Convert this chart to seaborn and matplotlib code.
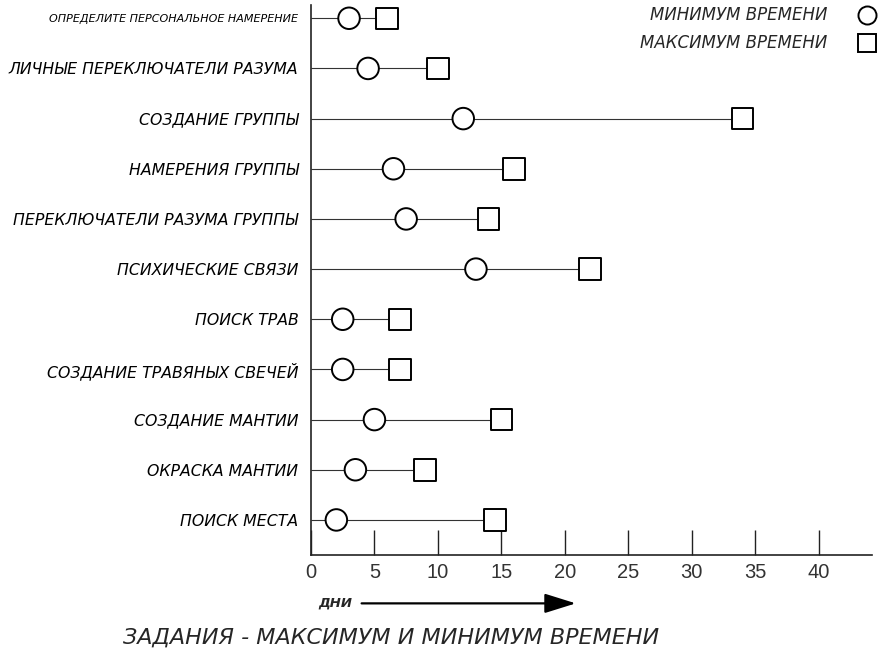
import matplotlib
matplotlib.use("Agg")
import matplotlib.pyplot as plt
from matplotlib.lines import Line2D
import seaborn as sns
import pandas as pd

# Task names and the minimum / maximum number of days each takes
tasks = [
    "ОПРЕДЕЛИТЕ ПЕРСОНАЛЬНОЕ НАМЕРЕНИЕ",
    "ЛИЧНЫЕ ПЕРЕКЛЮЧАТЕЛИ РАЗУМА",
    "СОЗДАНИЕ ГРУППЫ",
    "НАМЕРЕНИЯ ГРУППЫ",
    "ПЕРЕКЛЮЧАТЕЛИ РАЗУМА ГРУППЫ",
    "ПСИХИЧЕСКИЕ СВЯЗИ",
    "ПОИСК ТРАВ",
    "СОЗДАНИЕ ТРАВЯНЫХ СВЕЧЕЙ",
    "СОЗДАНИЕ МАНТИИ",
    "ОКРАСКА МАНТИИ",
    "ПОИСК МЕСТА",
]
min_days = [3, 4.5, 12, 6.5, 7.5, 13, 2.5, 2.5, 5, 3.5, 2]
max_days = [6, 10, 34, 16, 14, 22, 7, 7, 15, 9, 14.5]
x_ticks = [0, 5, 10, 15, 20, 25, 30, 35, 40]

min_label = "МИНИМУМ ВРЕМЕНИ"
max_label = "МАКСИМУМ ВРЕМЕНИ"

df = pd.DataFrame({"task": tasks, "min": min_days, "max": max_days})
long = df.melt(id_vars="task", value_vars=["min", "max"],
               var_name="kind", value_name="days")
long["kind"] = long["kind"].map({"min": min_label, "max": max_label})

sns.set_theme(style="white")
hand = ["DejaVu Sans"]

fig = plt.figure(figsize=(8.86, 6.53), dpi=100)
ax = fig.add_axes([0.351, 0.150, 0.633, 0.842])

# connecting lines from the axis to the maximum
ypos = list(range(len(tasks)))
ax.hlines(ypos, 0, df["max"], color="#333333", linewidth=0.8, zorder=1)

sns.scatterplot(
    data=long, x="days", y="task", style="kind",
    markers={min_label: "o", max_label: "s"},
    s=240, facecolor="white", edgecolor="black", linewidth=1.4,
    ax=ax, zorder=3, legend=False,
)

ax.set_xlim(0, 44.2)
ax.set_ylim(10.7, -0.26)
ax.set_xticks(x_ticks)
ax.set_xticklabels([str(t) for t in x_ticks], fontsize=14.5,
                   family="Liberation Sans", color="#333333")
ax.tick_params(axis="x", direction="in", length=18, width=1.0,
               color="#222222", pad=6, bottom=True)
ax.tick_params(axis="y", left=False, pad=3)
ax.set_yticks(ypos)
ax.set_yticklabels(tasks)
for i, lab in enumerate(ax.get_yticklabels()):
    lab.set_family(hand)
    lab.set_style("italic")
    lab.set_fontsize(8 if i == 0 else 11.3)
    lab.set_color("black")
    lab.set_fontweight("medium")

sns.despine(ax=ax, top=True, right=True)
for side in ("left", "bottom"):
    ax.spines[side].set_color("#222222")
    ax.spines[side].set_linewidth(1.2)

ax.set_xlabel("")
ax.set_ylabel("")

# legend in the upper right: text first, marker after it
handles = [
    Line2D([], [], marker="o", linestyle="none", markersize=13,
           markerfacecolor="white", markeredgecolor="black",
           markeredgewidth=1.4, label=min_label),
    Line2D([], [], marker="s", linestyle="none", markersize=13,
           markerfacecolor="white", markeredgecolor="black",
           markeredgewidth=1.4, label=max_label),
]
ax.legend(handles=handles, loc="upper right", markerfirst=False,
          frameon=False, bbox_to_anchor=(1.048, 1.025),
          prop={"family": hand, "style": "italic", "size": 12},
          handletextpad=1.4, labelspacing=0.6)

# axis caption with an arrow pointing to increasing days
fig.text(0.359, 0.076, "ДНИ", family=hand, style="italic", fontsize=9.5,
         fontweight="bold", ha="left", va="center")
ax.annotate("", xy=(0.653, 0.076), xytext=(0.405, 0.076),
            xycoords="figure fraction", textcoords="figure fraction",
            arrowprops=dict(arrowstyle="-|>,head_length=1.6,head_width=0.5",
                            color="black", lw=1.6))

fig.text(0.441, 0.024, "ЗАДАНИЯ - МАКСИМУМ И МИНИМУМ ВРЕМЕНИ",
         family=hand, style="italic", fontsize=16, ha="center", va="center")

fig.savefig("out.png", dpi=100)
